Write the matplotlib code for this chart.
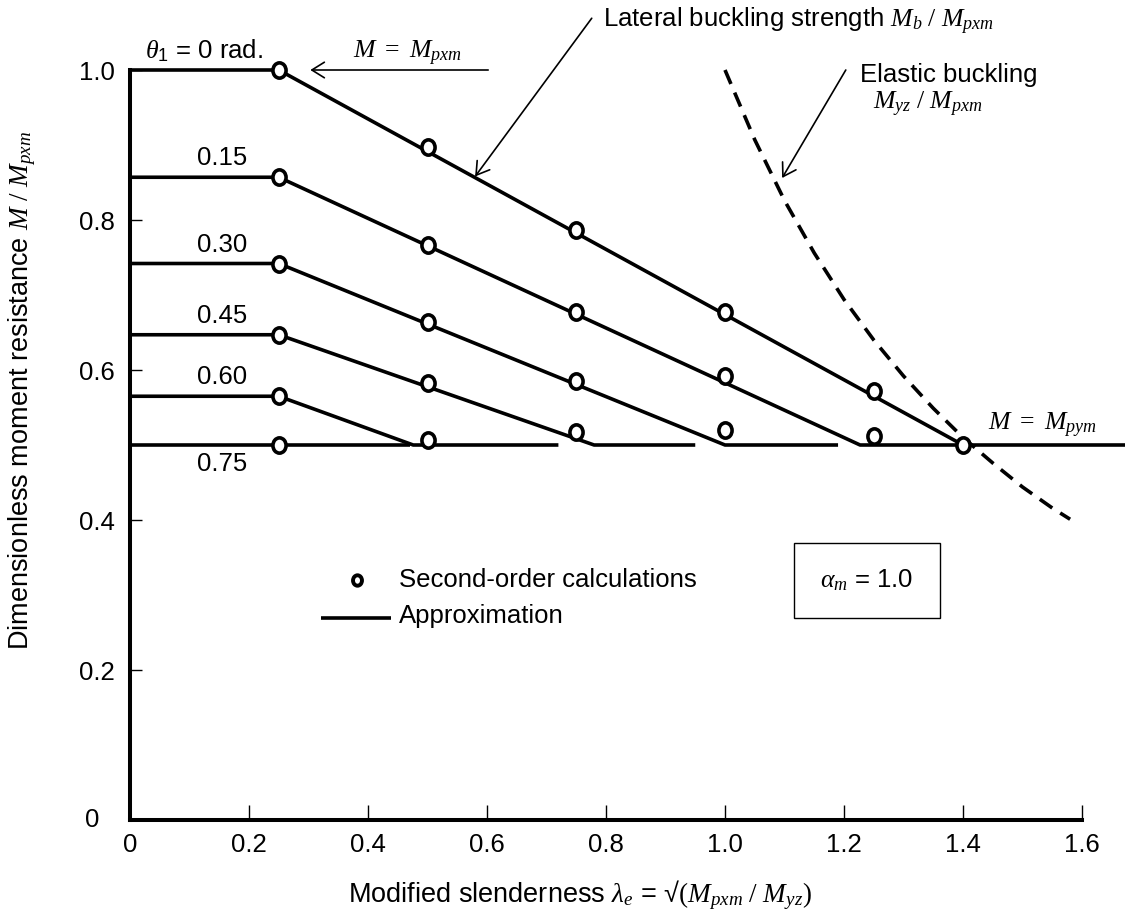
import matplotlib
matplotlib.use("Agg")
import matplotlib.pyplot as plt
from matplotlib.path import Path
from matplotlib.transforms import Affine2D
from matplotlib.patches import Rectangle

plt.rcParams['font.family'] = ['Liberation Sans', 'DejaVu Sans']
plt.rcParams['font.size'] = 18.5
plt.rcParams['mathtext.fontset'] = 'custom'
plt.rcParams['mathtext.rm'] = 'Liberation Serif'
plt.rcParams['mathtext.it'] = 'Liberation Serif:italic'
plt.rcParams['mathtext.bf'] = 'Liberation Serif:bold'
plt.rcParams['mathtext.sf'] = 'Liberation Sans'

# ---------------- data ----------------
row_labels = [r"$\theta_{\mathsf{1}}$ = 0 rad.", "0.15", "0.30", "0.45", "0.60", "0.75"]
plateau = [1.0, 0.857, 0.742, 0.647, 0.565, 0.5]
knee_lambda = [0.25, 0.25, 0.25, 0.25, 0.25, 0.25]
end_lambda = [1.40, 1.227, 1.0, 0.78, 0.476, 0.25]
trail_end = [1.70, 1.40, 1.19, 0.95, 0.72, 0.47]
floor_level = 0.5

calc_x = [
    [0.25, 0.5, 0.75, 1.0, 1.25, 1.4],
    [0.25, 0.5, 0.75, 1.0, 1.25],
    [0.25, 0.5, 0.75, 1.0],
    [0.25, 0.5, 0.75],
    [0.25, 0.5],
    [0.25],
]
calc_y = [
    [1.0, 0.897, 0.787, 0.677, 0.572, 0.5],
    [0.857, 0.767, 0.677, 0.592, 0.512],
    [0.742, 0.664, 0.585, 0.52],
    [0.647, 0.583, 0.517],
    [0.565, 0.507],
    [0.5],
]

elastic_x = [1.00, 1.05, 1.10, 1.15, 1.20, 1.25, 1.30, 1.35, 1.40, 1.45, 1.50, 1.55, 1.58]
elastic_y = [1.000, 0.907, 0.826, 0.756, 0.694, 0.640, 0.592, 0.549, 0.510, 0.476, 0.444, 0.416, 0.401]

xticks = [0, 0.2, 0.4, 0.6, 0.8, 1.0, 1.2, 1.4, 1.6]
xticklabels = ["0", "0.2", "0.4", "0.6", "0.8", "1.0", "1.2", "1.4", "1.6"]
yticks = [0.2, 0.4, 0.6, 0.8, 1.0]
yticklabels = ["0.2", "0.4", "0.6", "0.8", "1.0"]

# ---------------- figure ----------------
W, H = 1125, 924
fig = plt.figure(figsize=(W / 100, H / 100), dpi=100)
x0px, y0px = 130, 820
sx, sy = 595.0, 750.0
ax = fig.add_axes([x0px / W, (H - y0px) / H, (W - x0px) / W, y0px / H])
ax.set_xlim(0, (W - x0px) / sx)
ax.set_ylim(0, y0px / sy)

for s in ['top', 'right']:
    ax.spines[s].set_visible(False)
ax.spines['left'].set_bounds(0, 1.0)
ax.spines['bottom'].set_bounds(0, 1.6)
for s in ['left', 'bottom']:
    ax.spines[s].set_linewidth(2.9)
    ax.spines[s].set_capstyle('projecting')

ax.set_xticks(xticks)
ax.set_xticklabels(xticklabels)
ax.set_yticks(yticks)
ax.set_yticklabels(yticklabels)
ax.tick_params(axis='x', direction='in', length=11, width=1.0, pad=9)
ax.tick_params(axis='y', direction='in', length=8.5, width=1.0, pad=11)
ax.text(-0.064, 0.0, "0", ha='center', va='center', clip_on=False)

lw = 2.6
for i in range(len(plateau)):
    xs = [0, knee_lambda[i], end_lambda[i], trail_end[i]]
    ys = [plateau[i], plateau[i], floor_level, floor_level]
    ax.plot(xs, ys, color='black', lw=lw, solid_capstyle='butt', zorder=3)

# elastic buckling curve
ax.plot(elastic_x, elastic_y, color='black', lw=lw, linestyle=(0, (4.2, 2.6)), zorder=2)

# open markers (slightly taller than wide)
circ = Path.unit_circle()
ell = Path(Affine2D().scale(0.86, 1.0).transform(circ.vertices), circ.codes)
for xs, ys in zip(calc_x, calc_y):
    ax.plot(xs, ys, linestyle='none', marker=ell, ms=11, mew=2.6,
            mfc='white', mec='black', zorder=5)

# row labels
ax.text(0.025, 1.016, row_labels[0], ha='left', va='baseline')
for i in range(1, len(row_labels) - 1):
    ax.text(0.155, plateau[i] + 0.016, row_labels[i], ha='center', va='baseline')
ax.text(0.155, 0.465, row_labels[-1], ha='center', va='baseline')

# annotations
arrow_kw = dict(arrowstyle='->,head_length=0.45,head_width=0.28', lw=1.2,
                color='black', mutation_scale=20, shrinkA=0, shrinkB=0)
ax.text(0.375, 1.015, r"$M\ =\ M_{pxm}$", ha='left', va='baseline')
ax.annotate('', xy=(0.303, 1.0), xytext=(0.602, 1.0), arrowprops=arrow_kw)

ax.text(0.795, 1.057, r"Lateral buckling strength $M_b\ /\ M_{pxm}$", ha='left',
        va='baseline', clip_on=False)
ax.annotate('', xy=(0.58, 0.858), xytext=(0.776, 1.069), arrowprops=arrow_kw,
            annotation_clip=False)

ax.text(1.227, 0.984, "Elastic buckling", ha='left', va='baseline')
ax.text(1.249, 0.947, r"$M_{yz}\ /\ M_{pxm}$", ha='left', va='baseline')
ax.annotate('', xy=(1.096, 0.856), xytext=(1.203, 1.0), arrowprops=arrow_kw)

ax.text(1.442, 0.52, r"$M\ =\ M_{pym}$", ha='left', va='baseline')

# legend (manual)
ax.plot([0.382], [0.320], linestyle='none', marker=ell, ms=7.5, mew=2.8,
        mfc='white', mec='black')
ax.plot([0.321, 0.439], [0.270, 0.270], color='black', lw=lw, solid_capstyle='butt')
ax.text(0.452, 0.320, "Second-order calculations", ha='left', va='center')
ax.text(0.452, 0.272, "Approximation", ha='left', va='center')

# alpha box
ax.add_patch(Rectangle((1.116, 0.270), 0.245, 0.100, fill=False, lw=1.0, ec='black'))
ax.text(1.238, 0.320, r"$\alpha_m$ = 1.0", ha='center', va='center')

# axis labels
fig.text(22 / W, 1 - 390 / H, r"Dimensionless moment resistance $M\ /\ M_{pxm}$",
         rotation=90, ha='center', va='center', fontsize=19.5)
fig.text(580 / W, 1 - 895 / H, r"Modified slenderness $\lambda_e$ = √$(M_{pxm}\ /\ M_{yz})$",
         ha='center', va='center', fontsize=19.5)

fig.savefig("out.png", dpi=100)
